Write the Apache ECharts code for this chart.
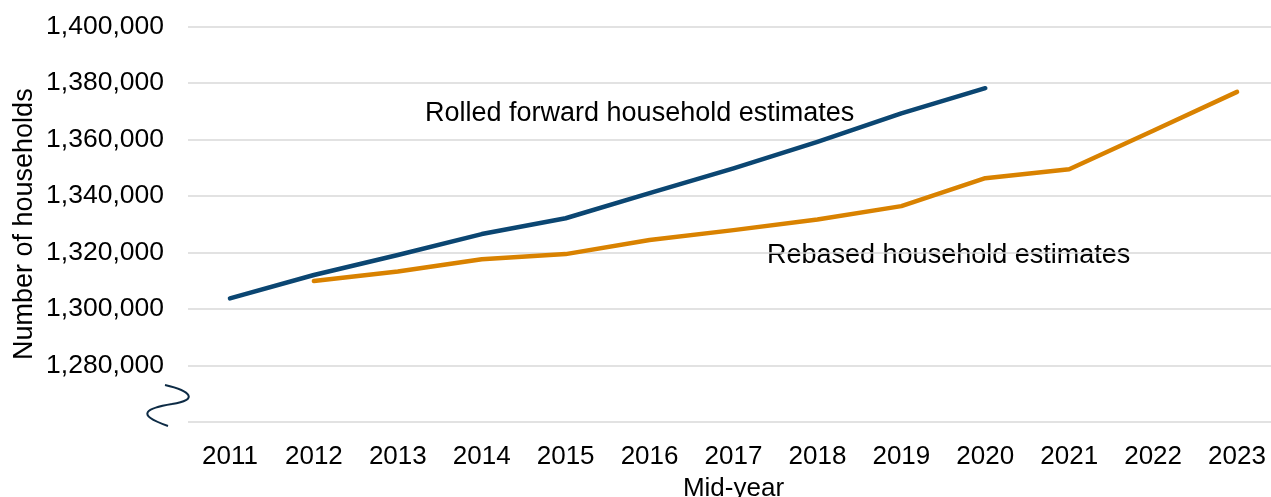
<!DOCTYPE html>
<html>
<head>
<meta charset="utf-8">
<script src="https://cdn.jsdelivr.net/npm/echarts@6/dist/echarts.min.js"></script>
<style>
  html, body { margin: 0; padding: 0; background: #ffffff; overflow: hidden; }
  #chart { width: 1271px; height: 497px; }
</style>
</head>
<body>
<div id="chart"></div>
<script>
// Mid-year household counts
const years = ['2011','2012','2013','2014','2015','2016','2017','2018','2019','2020','2021','2022','2023'];
const rolledForward = [1303700, 1312000, 1319100, 1326500, 1332100, 1341000, 1349800, 1359200, 1369300, 1378200, null, null, null];
const rebased = [null, 1309900, 1313200, 1317600, 1319400, 1324400, 1327900, 1331700, 1336400, 1346300, 1349500, 1363100, 1376900];

const yMin = 1260000;
const yMax = 1400000;
const yStep = 20000;

const FONT = '"Liberation Sans", Arial, sans-serif';
const BLUE = '#0b4672';
const ORANGE = '#d98200';
const BREAK_COLOR = '#0d2b45';

function withCommas(v) {
  return String(v).replace(/\B(?=(\d{3})+(?!\d))/g, ',');
}

const chart = echarts.init(document.getElementById('chart'), null, { renderer: 'canvas' });

chart.setOption({
  animation: false,
  backgroundColor: '#ffffff',
  grid: {
    left: 188, right: -8, top: 26.7, bottom: 75.3,
    containLabel: false,
    outerBoundsMode: 'none'
  },
  xAxis: {
    type: 'category',
    data: years,
    boundaryGap: true,
    name: 'Mid-year',
    nameLocation: 'middle',
    nameGap: 54,
    nameTextStyle: { fontFamily: FONT, fontSize: 26, color: '#000' },
    axisLine: { show: false },
    axisTick: { show: false },
    axisLabel: { fontFamily: FONT, fontSize: 26, color: '#000', margin: 22.5 }
  },
  yAxis: {
    type: 'value',
    min: yMin,
    max: yMax,
    interval: yStep,
    name: 'Number of households',
    nameLocation: 'middle',
    nameGap: 150,
    nameMoveOverlap: false,
    nameTextStyle: { fontFamily: FONT, fontSize: 27, color: '#000' },
    axisLine: { show: false },
    axisTick: { show: false },
    axisLabel: {
      fontFamily: FONT, fontSize: 26.5, color: '#000', margin: 24,
      formatter: v => (v === yMin ? '' : withCommas(v))
    },
    splitLine: { lineStyle: { color: '#d9d9d9', width: 1.5 } }
  },
  series: [
    {
      name: 'Rolled forward household estimates',
      type: 'line',
      data: rolledForward,
      symbol: 'none',
      connectNulls: false,
      lineStyle: { color: BLUE, width: 4.5, cap: 'round', join: 'round' },
      z: 3
    },
    {
      name: 'Rebased household estimates',
      type: 'line',
      data: rebased,
      symbol: 'none',
      connectNulls: false,
      lineStyle: { color: ORANGE, width: 4.5, cap: 'round', join: 'round' },
      z: 2
    }
  ],
  graphic: [
    {
      type: 'text', left: 425, top: 100,
      style: { text: 'Rolled forward household estimates', font: '27px ' + FONT, fill: '#000' }
    },
    {
      type: 'text', left: 767, top: 242,
      style: { text: 'Rebased household estimates', font: '27px ' + FONT, fill: '#000' }
    },
    // axis break mark below the lowest labelled value
    {
      type: 'bezierCurve',
      shape: { x1: 165, y1: 385, cpx1: 191, cpy1: 391, cpx2: 199, cpy2: 400, x2: 172, y2: 404 },
      style: { stroke: BREAK_COLOR, lineWidth: 2, fill: null }
    },
    {
      type: 'bezierCurve',
      shape: { x1: 172, y1: 404, cpx1: 148, cpy1: 408, cpx2: 133, cpy2: 414, x2: 168, y2: 426 },
      style: { stroke: BREAK_COLOR, lineWidth: 2, fill: null }
    }
  ]
});
</script>
</body>
</html>
